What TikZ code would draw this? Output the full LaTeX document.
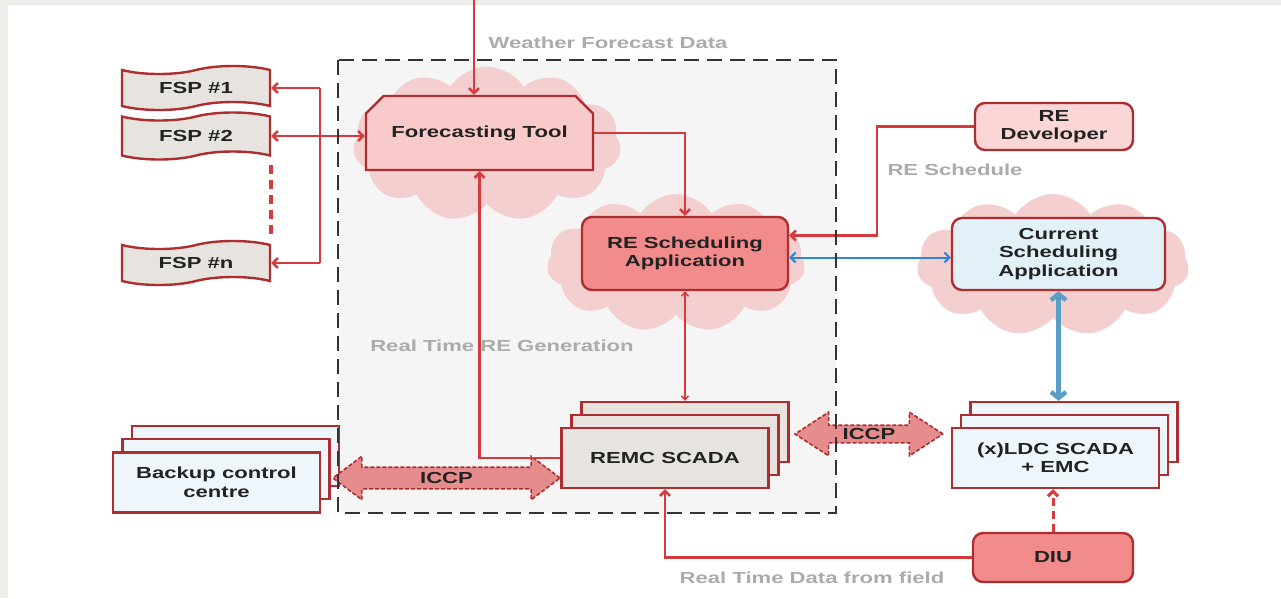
\documentclass[tikz,border=0pt]{standalone}
\usepackage{fontspec}
\setmainfont{Liberation Sans}
\newfontfamily\lab[FakeStretch=1.38]{Liberation Sans}
\usetikzlibrary{shapes.symbols,shapes.misc,shapes.arrows,arrows.meta,calc}
\definecolor{bgout}{HTML}{EEEDE9}
\definecolor{framefill}{HTML}{F5F5F5}
\definecolor{framec}{HTML}{333333}
\definecolor{bord}{HTML}{AE2E30}
\definecolor{arrc}{HTML}{D63A3C}
\definecolor{cloudc}{HTML}{F4CFCF}
\definecolor{ftfill}{HTML}{F9CACA}
\definecolor{salmon}{HTML}{F28C8C}
\definecolor{devfill}{HTML}{FAD6D6}
\definecolor{gfill}{HTML}{E7E4E0}
\definecolor{lblue}{HTML}{EEF6FB}
\definecolor{cblue}{HTML}{E2F1F8}
\definecolor{iccpfill}{HTML}{E68C8C}
\definecolor{bluearr}{HTML}{2F86D6}
\definecolor{steel}{HTML}{5A9EC6}
\definecolor{graytxt}{HTML}{ABABAB}
\definecolor{txt}{HTML}{222222}
\begin{document}
\begin{tikzpicture}[x=1pt,y=-1pt,
  font={\lab\bfseries\fontsize{16}{18.5}\selectfont},
  >={Straight Barb[length=5pt,width=10pt]},
  box/.style={draw=bord, line width=2.4pt, text=txt, align=center, inner sep=0pt},
  rbox/.style={box, rounded corners=10pt},
  cloudy/.style={cloud, cloud puffs=11, cloud puff arc=115, aspect=1.8, fill=cloudc, draw=none, inner sep=0pt},
  tapebox/.style={box, tape, tape bend top=in and out, tape bend bottom=in and out, tape bend height=8pt, fill=gfill, minimum width=148, minimum height=44},
  stackbox/.style={box, minimum width=207, minimum height=60},
  arr/.style={draw=arrc, line width=2.5pt},
  thinarr/.style={draw=arrc, line width=1.4pt, >={Straight Barb[length=4pt,width=7pt]}},
  iccp/.style={double arrow, draw=bord, dash pattern=on 4pt off 2pt, line width=1.6pt, fill=iccpfill, text=txt, text height=11pt, text depth=0pt},
  gtext/.style={text=graytxt, inner sep=0pt}
]
\useasboundingbox (0,0) rectangle (1281,598);
\fill[bgout] (0,0) rectangle (1281,598);
\fill[white] (8,5) rectangle (1281,598);

% dashed frame fill
\fill[framefill] (338,60) rectangle (836,513);

% clouds
\node[cloudy, minimum width=268, minimum height=155] (c1) at (487,144) {};
\node[cloudy, minimum width=258, minimum height=138] (c2) at (676,263) {};
\node[cloudy, minimum width=272, minimum height=142] (c3) at (1053,265) {};

% nodes
\node[box, chamfered rectangle, chamfered rectangle corners={north west,north east}, chamfered rectangle xsep=10pt, chamfered rectangle ysep=10pt, minimum width=227, minimum height=74, fill=ftfill] (ft) at (479.5,133) {Forecasting Tool};
\node[tapebox] (fsp1) at (196,88) {FSP \#1};
\node[tapebox, minimum height=47] (fsp2) at (196,136) {FSP \#2};
\node[tapebox] (fspn) at (196,263) {FSP \#n};

\node[rbox, fill=salmon, minimum width=206, minimum height=73] (res) at (685,253.5) {RE Scheduling\\Application};
\node[rbox, fill=devfill, minimum width=158, minimum height=47] (dev) at (1054,126.5) {RE\\Developer};
\node[rbox, fill=cblue, minimum width=213, minimum height=72] (csa) at (1058.5,254) {Current\\Scheduling\\Application};
\node[rbox, fill=salmon, minimum width=160, minimum height=49] (diu) at (1053,557.5) {DIU};

\node[stackbox, fill=gfill] (remcB) at (685,432) {};
\node[stackbox, fill=gfill] (remcM) at (675,445) {};
\node[stackbox, fill=gfill] (remc) at (665,458) {REMC SCADA};

\node[stackbox, fill=lblue] (bkB) at (235.5,456) {};
\node[stackbox, fill=lblue] (bkM) at (226,469) {};
\node[stackbox, fill=lblue] (bk) at (216.5,482.5) {Backup control\\centre};

\node[stackbox, fill=lblue] (ldcB) at (1074,432) {};
\node[stackbox, fill=lblue] (ldcM) at (1064.5,445) {};
\node[stackbox, fill=lblue] (ldc) at (1055.5,458) {(x)LDC SCADA\\+ EMC};

% ICCP arrows
\node[iccp, minimum height=227, double arrow head extend=11pt, double arrow tip angle=74, inner ysep=4.5pt] (iccpL) at (446.5,478) {ICCP};
\node[iccp, minimum height=148, double arrow head extend=13pt, double arrow tip angle=66, inner ysep=2.5pt] (iccpR) at (869,434) {ICCP};

% labels
\node[gtext] (wlab) at (608,43) {Weather Forecast Data};
\node[gtext] (rslab) at (955,170) {RE Schedule};
\node[gtext] (rtlab) at (502,346) {Real Time RE Generation};
\node[gtext] (fdlab) at (812,578) {Real Time Data from field};

% connectors
\coordinate (wtop) at (474,0);
\coordinate (bus) at (320,0);
\draw[arr,->] (wtop) -- (wtop |- ft.north);
\draw[arr] (fsp1.east -| bus) -- (fspn.east -| bus);
\draw[arr,->] (fsp1.east -| bus) -- (fsp1.east);
\draw[arr,->] (fspn.east -| bus) -- (fspn.east);
\draw[arr,<->] (fsp2.east) -- (fsp2.east -| ft.west);
\draw[arr, line width=3.6pt, dash pattern=on 9pt off 6pt] ($(fsp2.south east)+(0,8)$) -- ($(fspn.north east)+(0,-10)$);
\draw[arr,->] (ft.east) -| (res.north);
\draw[arr,->] (remc.west) -| (ft.south);
\draw[thinarr,<->] (res.south) -- (res.south |- remcB.north);
\coordinate (rsin) at ([yshift=18pt]res.east);
\draw[arr,->] (dev.west) -- ++(-97,0) |- (rsin);
\draw[bluearr, line width=2pt, <->, >={Straight Barb[length=5pt,width=10pt]}] ([yshift=-4pt]res.east) -- ([yshift=-4pt]res.east -| csa.west);
\draw[steel, line width=4.5pt, <->, >={Straight Barb[length=6pt,width=15pt]}] (csa.south) -- (csa.south |- ldcB.north);
\draw[arr, line width=3pt, dash pattern=on 8pt off 5pt, ->] (diu.north) -- (diu.north |- ldc.south);
\draw[arr,->] (diu.west) -| (remc.south);

% frame border on top
\draw[framec, line width=2.6pt, dash pattern=on 15pt off 8pt] (338,60) rectangle (836,513);
\end{tikzpicture}
\end{document}
